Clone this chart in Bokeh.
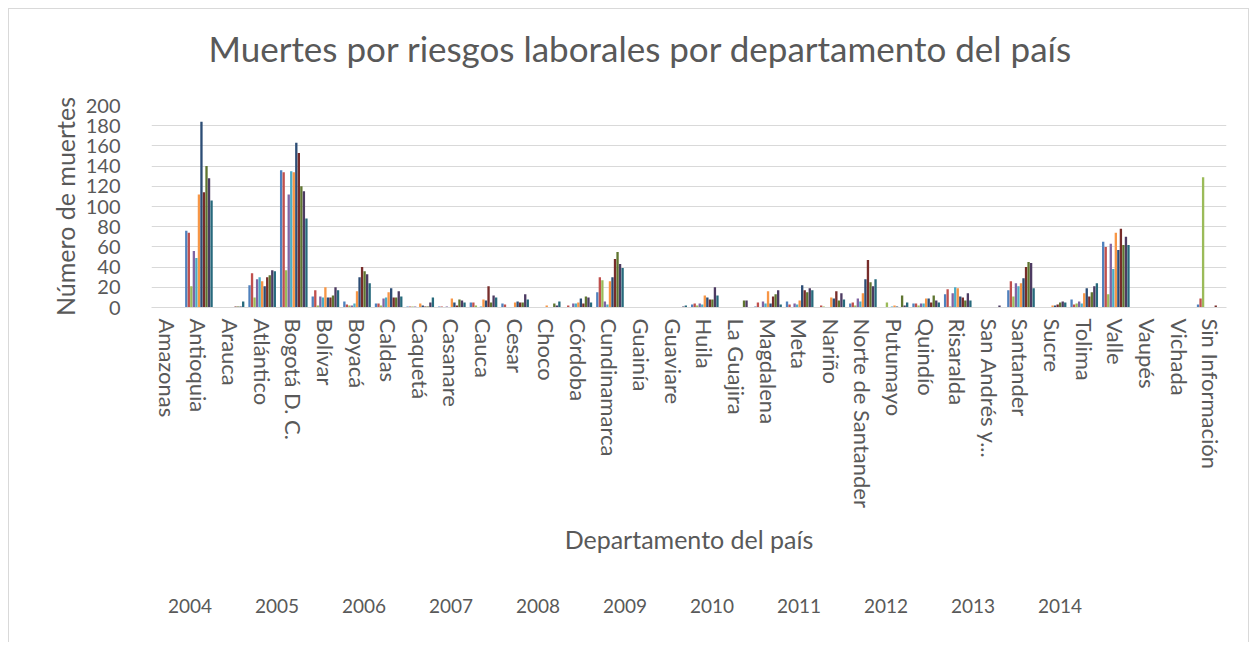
from bokeh.plotting import figure
from bokeh.models import FactorRange, Range1d, Legend, LegendItem, FixedTicker, ColumnDataSource, Title
from bokeh.transform import dodge
from bokeh.layouts import column
from bokeh.embed import file_html
from bokeh.resources import INLINE

departamentos = ["Amazonas", "Antioquia", "Arauca", "Atlántico", "Bogotá D. C.", "Bolívar", "Boyacá",
                 "Caldas", "Caquetá", "Casanare", "Cauca", "Cesar", "Choco", "Córdoba", "Cundinamarca",
                 "Guainía", "Guaviare", "Huila", "La Guajira", "Magdalena", "Meta", "Nariño",
                 "Norte de Santander", "Putumayo", "Quindío", "Risaralda", "San Andrés y...", "Santander",
                 "Sucre", "Tolima", "Valle", "Vaupés", "Vichada", "Sin Información"]

years = ["2004", "2005", "2006", "2007", "2008", "2009", "2010", "2011", "2012", "2013", "2014"]

v2004 = [0, 76, 0, 22, 136, 11, 6, 4, 1, 1, 5, 4, 0, 0, 15, 0, 0, 3, 0, 1, 6, 0, 4, 0, 4, 13, 0, 17, 0, 8, 65, 0, 0, 3]
v2005 = [0, 74, 0, 34, 134, 17, 3, 4, 1, 1, 5, 3, 0, 2, 30, 0, 0, 4, 0, 5, 3, 2, 5, 0, 4, 18, 0, 26, 0, 3, 60, 0, 0, 9]
v2006 = [0, 21, 0, 10, 37, 2, 2, 2, 1, 0, 2, 0, 0, 0, 27, 0, 0, 2, 0, 0, 0, 1, 2, 5, 2, 1, 0, 11, 0, 4, 13, 0, 0, 129]
v2007 = [0, 56, 0, 28, 112, 11, 2, 9, 1, 1, 0, 0, 0, 4, 6, 0, 0, 4, 0, 6, 4, 0, 9, 0, 4, 14, 0, 24, 0, 6, 63, 0, 0, 0]
v2008 = [0, 49, 0, 30, 135, 10, 4, 10, 0, 0, 1, 0, 0, 4, 3, 0, 0, 3, 0, 4, 3, 0, 6, 1, 4, 20, 0, 21, 0, 4, 38, 0, 0, 0]
v2009 = [0, 112, 0, 26, 134, 20, 16, 15, 4, 9, 8, 5, 2, 5, 26, 0, 0, 12, 0, 16, 7, 10, 14, 2, 9, 19, 0, 24, 2, 14, 74, 0, 0, 0]
v2010 = [0, 184, 0, 21, 163, 10, 30, 19, 2, 5, 7, 6, 0, 9, 30, 0, 0, 10, 0, 4, 22, 9, 28, 1, 9, 11, 0, 29, 2, 19, 57, 0, 0, 0]
v2011 = [0, 114, 1, 30, 153, 10, 40, 10, 1, 2, 21, 5, 0, 4, 48, 0, 0, 8, 0, 11, 17, 16, 47, 0, 5, 10, 0, 40, 3, 11, 78, 0, 0, 2]
v2012 = [0, 140, 1, 32, 120, 12, 36, 10, 1, 8, 5, 5, 4, 11, 55, 0, 0, 8, 7, 13, 15, 7, 25, 12, 12, 7, 0, 45, 5, 15, 62, 0, 0, 0]
v2013 = [0, 128, 1, 37, 115, 20, 33, 16, 5, 7, 12, 13, 2, 10, 43, 0, 1, 20, 7, 17, 19, 14, 21, 2, 7, 14, 2, 44, 6, 21, 70, 0, 0, 0]
v2014 = [0, 106, 6, 36, 88, 17, 24, 11, 10, 5, 10, 8, 6, 5, 39, 0, 2, 12, 0, 3, 17, 8, 28, 5, 5, 7, 0, 19, 5, 24, 62, 0, 0, 0]

y_ticks = [0, 20, 40, 60, 80, 100, 120, 140, 160, 180, 200]

colors = ["#4F81BD", "#C0504D", "#9BBB59", "#8064A2", "#4BACC6", "#F79646",
          "#2C4D75", "#772C2A", "#5F7530", "#4D3B62", "#276A7C"]

series = [v2004, v2005, v2006, v2007, v2008, v2009, v2010, v2011, v2012, v2013, v2014]

data = {"dep": departamentos}
for yr, vals in zip(years, series):
    data["y" + yr] = vals
source = ColumnDataSource(data)

FONT = "Lato"
TXT = "#595959"
EDGE = "1px solid #d9d9d9"

p = figure(x_range=FactorRange(factors=departamentos, range_padding=0),
           y_range=Range1d(0, 200),
           width=1241, height=576,
           output_backend="svg", toolbar_location=None,
           min_border_left=139, min_border_right=24, min_border_top=96, min_border_bottom=278)

p.styles = {"margin-left": "8px", "margin-top": "8px",
            "border-top": EDGE, "border-left": EDGE, "border-right": EDGE}

bw = 1.0 / 12.5
for i, yr in enumerate(years):
    p.vbar(x=dodge("dep", (i - 5) * bw, range=p.x_range), top="y" + yr, width=bw * 0.92,
           source=source, fill_color=colors[i], line_color=None)

p.title.text = "Muertes por riesgos laborales por departamento del país"
p.title.text_font = FONT
p.title.text_font_size = "35px"
p.title.text_font_style = "normal"
p.title.text_color = TXT
p.title.align = "left"
p.title.offset = 57
p.title.standoff = 10

# spacer between the frame and the chart title
top_spacer = Title(text=" ", text_font_size="10px", standoff=19)
p.add_layout(top_spacer, "above")

p.outline_line_color = None
p.xgrid.grid_line_color = None
p.ygrid.grid_line_color = "#d9d9d9"
p.ygrid.grid_line_width = 1

p.yaxis.ticker = FixedTicker(ticks=y_ticks)
p.yaxis.axis_line_color = None
p.yaxis.major_tick_line_color = None
p.yaxis.minor_tick_line_color = None
p.yaxis.major_label_standoff = 25
p.yaxis.major_label_text_font = FONT
p.yaxis.major_label_text_font_size = "20px"
p.yaxis.major_label_text_color = TXT
p.yaxis.axis_label = "Número de muertes"
p.yaxis.axis_label_text_font = FONT
p.yaxis.axis_label_text_font_size = "25px"
p.yaxis.axis_label_text_font_style = "normal"
p.yaxis.axis_label_text_color = TXT
p.yaxis.axis_label_standoff = 3

p.xaxis.axis_line_color = "#d9d9d9"
p.xaxis.major_tick_line_color = None
p.xaxis.minor_tick_line_color = None
p.xaxis.major_label_orientation = "vertical"
p.xaxis.major_label_standoff = 5
p.xaxis.major_label_text_font = FONT
p.xaxis.major_label_text_font_size = "22px"
p.xaxis.major_label_text_color = TXT
p.xaxis.axis_label = "Departamento del país"
p.xaxis.axis_label_text_font = FONT
p.xaxis.axis_label_text_font_size = "25px"
p.xaxis.axis_label_text_font_style = "normal"
p.xaxis.axis_label_text_color = TXT
p.xaxis.axis_label_standoff = 13

# legend strip below the chart (same series colours)
pl = figure(width=1241, height=58, x_range=Range1d(0, 1), y_range=Range1d(0, 1),
            output_backend="svg", toolbar_location=None,
            x_axis_location=None, y_axis_location=None,
            min_border_left=142, min_border_right=24, min_border_top=10, min_border_bottom=0)
pl.styles = {"margin-left": "8px", "border-left": EDGE, "border-right": EDGE}
pl.outline_line_color = None
pl.xgrid.grid_line_color = None
pl.ygrid.grid_line_color = None

items = []
empty = ColumnDataSource(data={"x": [], "top": []})
for i, yr in enumerate(years):
    r = pl.vbar(x="x", top="top", width=0.1, source=empty, fill_color=colors[i], line_color=None)
    items.append(LegendItem(label=yr, renderers=[r]))

legend = Legend(items=items, orientation="horizontal", location="top_left",
                border_line_color=None, background_fill_alpha=0,
                label_text_font=FONT, label_text_font_size="19px", label_text_color=TXT,
                glyph_width=13, glyph_height=13, label_standoff=4, label_width=50,
                spacing=20, margin=0, padding=5)
pl.add_layout(legend, "center")

layout = column(p, pl, spacing=0)

open("out.html", "w").write(file_html(layout, INLINE))
